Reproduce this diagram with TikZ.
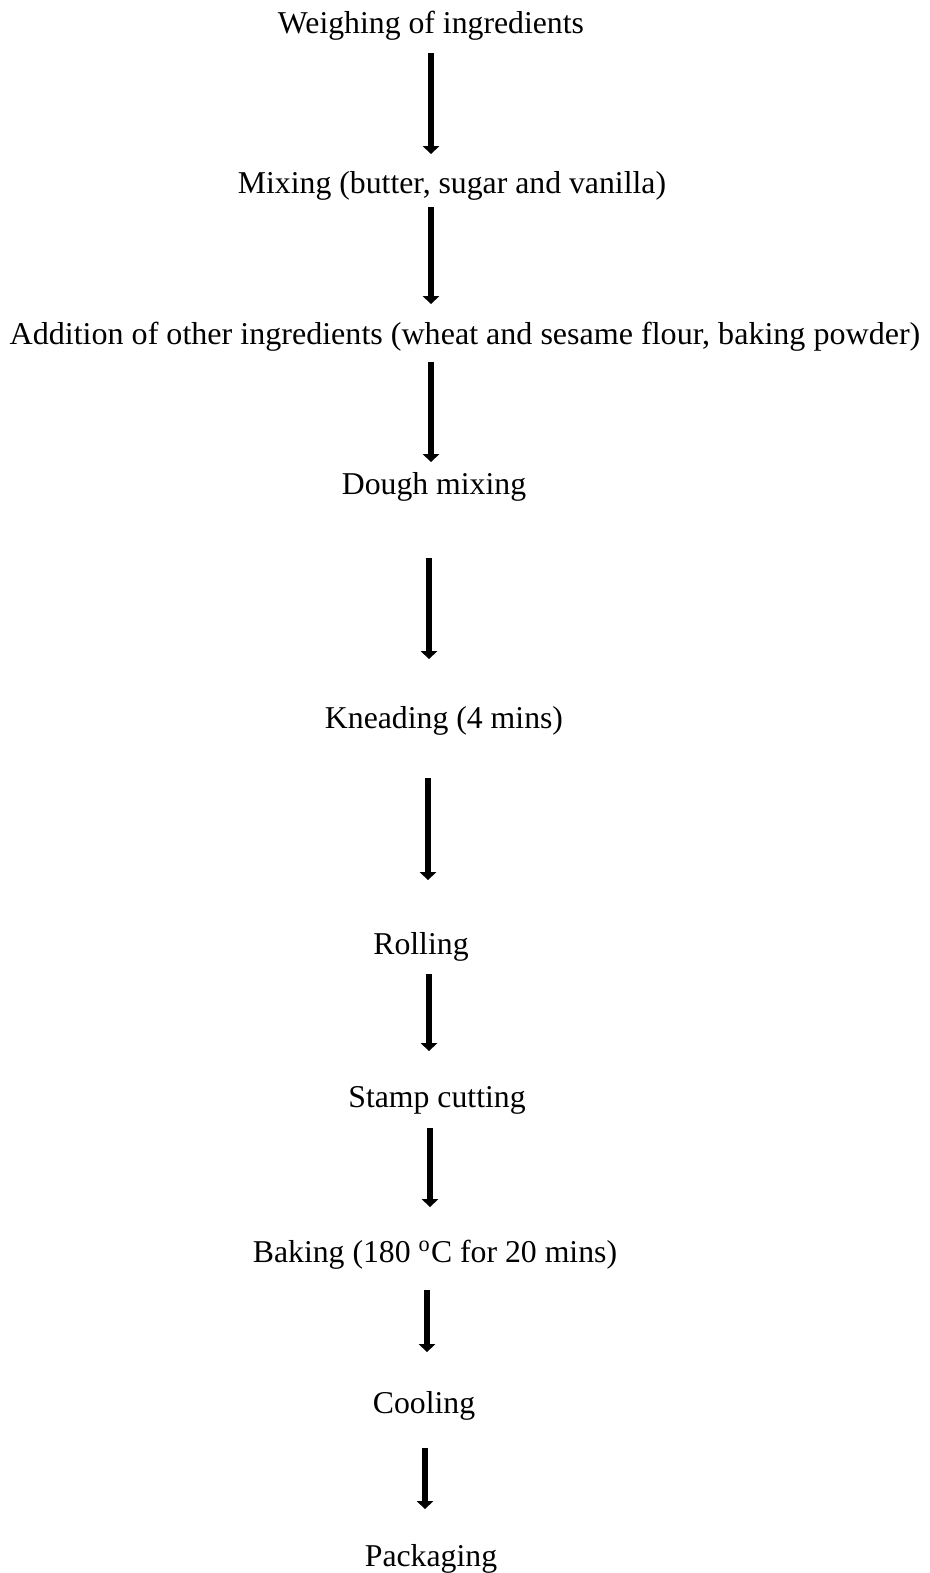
\documentclass[tikz,border=0pt]{standalone}
\usepackage{fontspec}
\setmainfont{Liberation Serif}
\usetikzlibrary{arrows.meta}

\begin{document}
\begin{tikzpicture}[
    x=0.4pt, y=-0.4pt,
    stepnode/.style={anchor=base, inner sep=0pt, font=\fontsize{12.7}{15}\selectfont},
    arr/.style={-{Triangle[width=6.6pt, length=3.2pt]}, line width=2.1pt},
]
    \useasboundingbox (0,0) rectangle (930,1573);

    \node[stepnode] (weigh) at (431,33) {Weighing of ingredients};
    \node[stepnode] (mix) at (452,193) {Mixing (butter, sugar and vanilla)};
    \node[stepnode, xscale=1.01] (add) at (465,344) {Addition of other ingredients (wheat and sesame flour, baking powder)};
    \node[stepnode] (dough) at (434,494) {Dough mixing};
    \node[stepnode] (knead) at (444,728) {Kneading (4 mins)};
    \node[stepnode] (roll) at (421,954) {Rolling};
    \node[stepnode] (stamp) at (437,1107) {Stamp cutting};
    \node[stepnode] (bake) at (435,1262) {Baking (180 \textsuperscript{o}C for 20 mins)};
    \node[stepnode] (cool) at (424,1413) {Cooling};
    \node[stepnode] (pack) at (431,1566) {Packaging};

    % arrow ends
    \coordinate (a1) at (431,53);   \coordinate (b1) at (431,154);
    \coordinate (a2) at (431,207);  \coordinate (b2) at (431,304);
    \coordinate (a3) at (431,362);  \coordinate (b3) at (431,462);
    \coordinate (a4) at (429,558);  \coordinate (b4) at (429,659);
    \coordinate (a5) at (428,778);  \coordinate (b5) at (428,880);
    \coordinate (a6) at (429,974);  \coordinate (b6) at (429,1051);
    \coordinate (a7) at (430,1128); \coordinate (b7) at (430,1207);
    \coordinate (a8) at (427,1290); \coordinate (b8) at (427,1352);
    \coordinate (a9) at (425,1448); \coordinate (b9) at (425,1509);

    \foreach \i in {1,...,9}
        \draw[arr] (a\i) -- (b\i);
\end{tikzpicture}
\end{document}
